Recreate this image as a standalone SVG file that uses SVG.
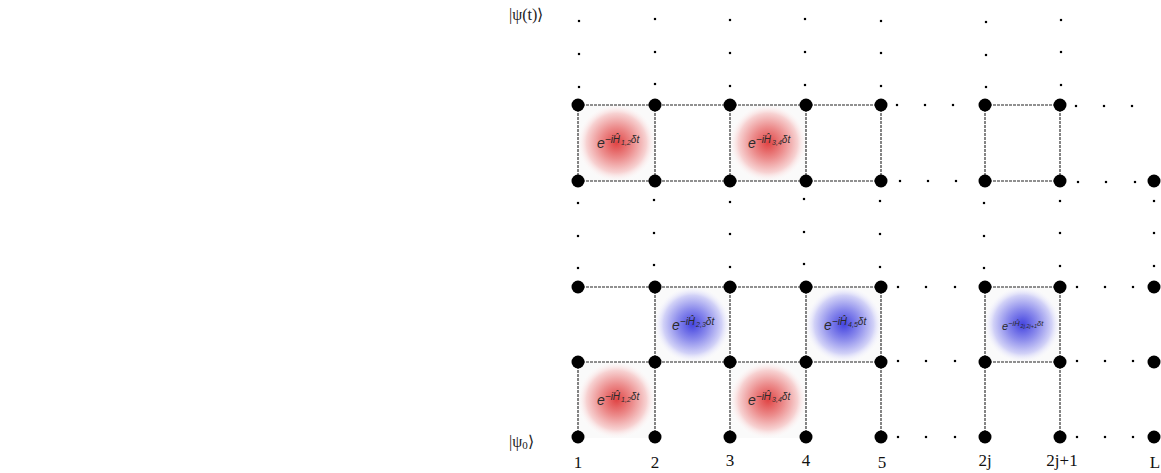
<svg xmlns="http://www.w3.org/2000/svg" width="1161" height="473" viewBox="0 0 1161 473">
<style>
.node{fill:#000}
.dot{fill:#000}
.edge{stroke:#222;stroke-width:1.1;stroke-dasharray:3 1;fill:none}
.sq{fill:#fafafa}
.gate{font-family:"Liberation Sans",Arial,sans-serif;font-style:italic;fill:#2a2a2a;font-size:14px}
.sup{font-size:10px}
.sub{font-size:7px}
.lab{font-family:"Liberation Serif","Times New Roman",serif;font-size:17px;fill:#111}
.ket{font-family:"Liberation Serif","Times New Roman",serif;font-size:16px;fill:#222}
</style>
<defs>
<radialGradient id="red" cx="0.5" cy="0.5" r="0.52">
<stop offset="0" stop-color="#e04444"/>
<stop offset="0.4" stop-color="#ec8c8c"/>
<stop offset="0.75" stop-color="#f7d2d2"/>
<stop offset="1" stop-color="#ffffff" stop-opacity="0"/>
</radialGradient>
<radialGradient id="blue" cx="0.5" cy="0.5" r="0.52">
<stop offset="0" stop-color="#4444e0"/>
<stop offset="0.4" stop-color="#8c8cec"/>
<stop offset="0.75" stop-color="#d2d2f7"/>
<stop offset="1" stop-color="#ffffff" stop-opacity="0"/>
</radialGradient>
<circle id="n" r="6.5"/>
<rect id="d" x="-1.1" y="-1.1" width="2.2" height="2.2"/>
</defs>

<g id="gates">
<g id="gate-top-12"><rect class="sq" x="578" y="105" width="77" height="76"/><rect x="578" y="105" width="77" height="76" fill="url(#red)"/><text class="gate" x="597" y="148">e<tspan class="sup" dy="-5">−iĤ</tspan><tspan class="sub" dx="1" dy="2">1,2</tspan><tspan class="sup" dy="-2">δt</tspan></text></g>
<g id="gate-top-34"><rect class="sq" x="730" y="105" width="76" height="76"/><rect x="730" y="105" width="76" height="76" fill="url(#red)"/><text class="gate" x="748" y="148">e<tspan class="sup" dy="-5">−iĤ</tspan><tspan class="sub" dx="1" dy="2">3,4</tspan><tspan class="sup" dy="-2">δt</tspan></text></g>
<g id="gate-mid-23"><rect class="sq" x="655" y="287" width="75" height="75"/><rect x="655" y="287" width="75" height="75" fill="url(#blue)"/><text class="gate" x="672" y="330">e<tspan class="sup" dy="-5">−iĤ</tspan><tspan class="sub" dx="1" dy="2">2,3</tspan><tspan class="sup" dy="-2">δt</tspan></text></g>
<g id="gate-mid-45"><rect class="sq" x="806" y="287" width="76" height="75"/><rect x="806" y="287" width="76" height="75" fill="url(#blue)"/><text class="gate" x="824" y="330">e<tspan class="sup" dy="-5">−iĤ</tspan><tspan class="sub" dx="1" dy="2">4,5</tspan><tspan class="sup" dy="-2">δt</tspan></text></g>
<g id="gate-mid-2j"><rect class="sq" x="985" y="287" width="75" height="75"/><rect x="985" y="287" width="75" height="75" fill="url(#blue)"/><text class="gate" x="1002" y="330" style="font-size:11px">e<tspan dy="-4" style="font-size:7.5px">−iĤ</tspan><tspan dx="1" dy="2" style="font-size:5.5px">2j,2j+1</tspan><tspan dy="-2" style="font-size:7.5px">δt</tspan></text></g>
<g id="gate-bot-12"><rect class="sq" x="578" y="362" width="77" height="76"/><rect x="578" y="362" width="77" height="76" fill="url(#red)"/><text class="gate" x="597" y="405">e<tspan class="sup" dy="-5">−iĤ</tspan><tspan class="sub" dx="1" dy="2">1,2</tspan><tspan class="sup" dy="-2">δt</tspan></text></g>
<g id="gate-bot-34"><rect class="sq" x="730" y="362" width="76" height="76"/><rect x="730" y="362" width="76" height="76" fill="url(#red)"/><text class="gate" x="748" y="405">e<tspan class="sup" dy="-5">−iĤ</tspan><tspan class="sub" dx="1" dy="2">3,4</tspan><tspan class="sup" dy="-2">δt</tspan></text></g>
</g>

<g id="connectors">
<path class="edge" d="M578 105H881M578 181H881M578 105V181M655 105V181M730 105V181M806 105V181M881 105V181"/>
<path class="edge" d="M985 105H1060M985 181H1060M985 105V181M1060 105V181"/>
<path class="edge" d="M578 287H881M578 362H881M655 287V362M730 287V362M806 287V362M881 287V362"/>
<path class="edge" d="M985 287H1060M985 362H1060M985 287V362M1060 287V362"/>
<path class="edge" d="M578 362V437M655 362V437M730 362V437M806 362V437M881 362V437M985 362V437M1060 362V437"/>
</g>

<g id="nodes">
<g id="row-top">
<use href="#n" x="578" y="105"/><use href="#n" x="655" y="105"/><use href="#n" x="730" y="105"/><use href="#n" x="806" y="105"/><use href="#n" x="881" y="105"/><use href="#n" x="985" y="105"/><use href="#n" x="1060" y="105"/>
</g>
<g id="row-3">
<use href="#n" x="578" y="181"/><use href="#n" x="655" y="181"/><use href="#n" x="730" y="181"/><use href="#n" x="806" y="181"/><use href="#n" x="881" y="181"/><use href="#n" x="985" y="181"/><use href="#n" x="1060" y="181"/><use href="#n" x="1154" y="181"/>
</g>
<g id="row-2">
<use href="#n" x="578" y="287"/><use href="#n" x="655" y="287"/><use href="#n" x="730" y="287"/><use href="#n" x="806" y="287"/><use href="#n" x="881" y="287"/><use href="#n" x="985" y="287"/><use href="#n" x="1060" y="287"/><use href="#n" x="1154" y="287"/>
</g>
<g id="row-1">
<use href="#n" x="578" y="362"/><use href="#n" x="655" y="362"/><use href="#n" x="730" y="362"/><use href="#n" x="806" y="362"/><use href="#n" x="881" y="362"/><use href="#n" x="985" y="362"/><use href="#n" x="1060" y="362"/><use href="#n" x="1154" y="362"/>
</g>
<g id="row-0">
<use href="#n" x="578" y="437"/><use href="#n" x="655" y="437"/><use href="#n" x="730" y="437"/><use href="#n" x="806" y="437"/><use href="#n" x="881" y="437"/><use href="#n" x="985" y="437"/><use href="#n" x="1060" y="437"/><use href="#n" x="1154" y="437"/>
</g>
</g>

<g id="ellipsis-dots" class="dot">
<use href="#d" x="579" y="21"/><use href="#d" x="579" y="54"/><use href="#d" x="579" y="87"/>
<use href="#d" x="655" y="19"/><use href="#d" x="655" y="52"/><use href="#d" x="655" y="84"/>
<use href="#d" x="730" y="20"/><use href="#d" x="730" y="53"/><use href="#d" x="730" y="86"/>
<use href="#d" x="805" y="19"/><use href="#d" x="805" y="52"/><use href="#d" x="805" y="85"/>
<use href="#d" x="881" y="21"/><use href="#d" x="881" y="53"/><use href="#d" x="881" y="86"/>
<use href="#d" x="986" y="22"/><use href="#d" x="986" y="55"/><use href="#d" x="986" y="87"/>
<use href="#d" x="1061" y="20"/><use href="#d" x="1061" y="52"/><use href="#d" x="1061" y="85"/>
<use href="#d" x="578" y="203"/><use href="#d" x="578" y="236"/><use href="#d" x="578" y="268"/>
<use href="#d" x="654" y="200"/><use href="#d" x="654" y="233"/><use href="#d" x="654" y="265"/>
<use href="#d" x="730" y="202"/><use href="#d" x="730" y="234"/><use href="#d" x="730" y="267"/>
<use href="#d" x="804" y="199"/><use href="#d" x="804" y="232"/><use href="#d" x="804" y="264"/>
<use href="#d" x="880" y="201"/><use href="#d" x="880" y="234"/><use href="#d" x="880" y="267"/>
<use href="#d" x="984" y="203"/><use href="#d" x="984" y="236"/><use href="#d" x="984" y="268"/>
<use href="#d" x="1060" y="201"/><use href="#d" x="1060" y="233"/><use href="#d" x="1060" y="266"/>
<use href="#d" x="1154" y="201"/><use href="#d" x="1154" y="233"/><use href="#d" x="1154" y="266"/>
<use href="#d" x="897" y="105"/><use href="#d" x="925" y="105"/><use href="#d" x="953" y="105"/>
<use href="#d" x="1076" y="106"/><use href="#d" x="1104" y="106"/><use href="#d" x="1132" y="106"/>
<use href="#d" x="900" y="181"/><use href="#d" x="928" y="181"/><use href="#d" x="956" y="181"/>
<use href="#d" x="1078" y="182"/><use href="#d" x="1106" y="182"/><use href="#d" x="1135" y="182"/>
<use href="#d" x="898" y="287"/><use href="#d" x="926" y="287"/><use href="#d" x="955" y="287"/>
<use href="#d" x="1077" y="287"/><use href="#d" x="1105" y="287"/><use href="#d" x="1133" y="287"/>
<use href="#d" x="898" y="361"/><use href="#d" x="926" y="361"/><use href="#d" x="955" y="361"/>
<use href="#d" x="1077" y="361"/><use href="#d" x="1105" y="361"/><use href="#d" x="1133" y="361"/>
<use href="#d" x="898" y="437"/><use href="#d" x="926" y="437"/><use href="#d" x="955" y="437"/>
<use href="#d" x="1077" y="437"/><use href="#d" x="1105" y="437"/><use href="#d" x="1133" y="437"/>
</g>

<g id="labels">
<text class="ket" x="509" y="20">|ψ(t)⟩</text>
<text class="ket" x="509" y="447">|ψ<tspan font-size="11" dy="2">0</tspan><tspan dy="-2">⟩</tspan></text>
<g class="lab" text-anchor="middle">
<text x="578" y="468">1</text>
<text x="655" y="468">2</text>
<text x="730" y="466">3</text>
<text x="806" y="466">4</text>
<text x="882" y="468">5</text>
<text x="985" y="466">2j</text>
<text x="1062" y="466">2j+1</text>
<text x="1155" y="468">L</text>
</g>
</g>
</svg>
